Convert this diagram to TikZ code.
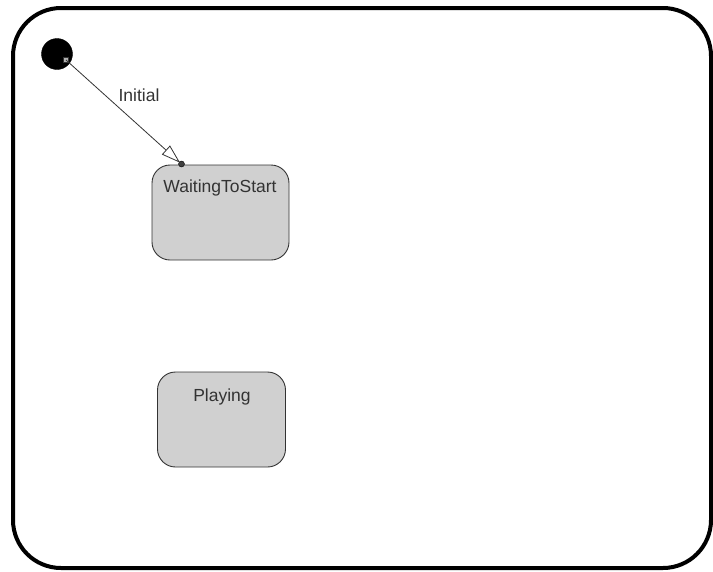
\documentclass[tikz,border=0pt]{standalone}
\usepackage{fontspec}
\setmainfont{Liberation Sans}
\usetikzlibrary{arrows.meta}
\definecolor{stategray}{RGB}{208,208,208}
\definecolor{txtgray}{RGB}{51,51,51}
\tikzset{
  frame/.style={draw=black, line width=4pt, rounded corners=48pt},
  statebox/.style={draw=black!80, line width=0.9pt, fill=stategray, rounded corners=18pt, inner sep=0pt},
  statetext/.style={text=txtgray, font=\fontsize{17.5}{20}\selectfont, inner sep=0pt},
  initdot/.style={circle, fill=black, draw=black, minimum size=31pt, inner sep=0pt},
  port/.style={rectangle, fill=gray!60, draw=gray!40!black, line width=0.4pt, minimum size=5pt, inner sep=0pt},
  portdot/.style={circle, fill=gray!50!black, draw=black, line width=0.4pt, minimum size=6pt, inner sep=0pt},
  trans/.style={draw=black!80, line width=0.8pt, -{Triangle[open, length=19pt, width=12pt]}, shorten >=2pt}
}
\begin{document}
\begin{tikzpicture}[x=1pt,y=-1pt]
\useasboundingbox (0,0) rectangle (713,571);
\draw[frame] (13,8) rectangle (711,568);
\node[initdot] (init) at (57,54) {};
\node[port] (initport) at (66,60) {};
\node[statebox, minimum width=137pt, minimum height=95pt] (wts) at (220.5,212.5) {};
\node[statetext] (wtslabel) at (220,188) {WaitingToStart};
\node[statebox, minimum width=128pt, minimum height=95pt] (play) at (221.5,419.5) {};
\node[statetext] (playlabel) at (222,396.5) {Playing};
\node[portdot] (wtsport) at (181.5,164) {};
\draw[trans] (initport.center) -- (wtsport.center);
\node[statetext] (initlabel) at (139,95.5) {Initial};
\end{tikzpicture}
\end{document}
